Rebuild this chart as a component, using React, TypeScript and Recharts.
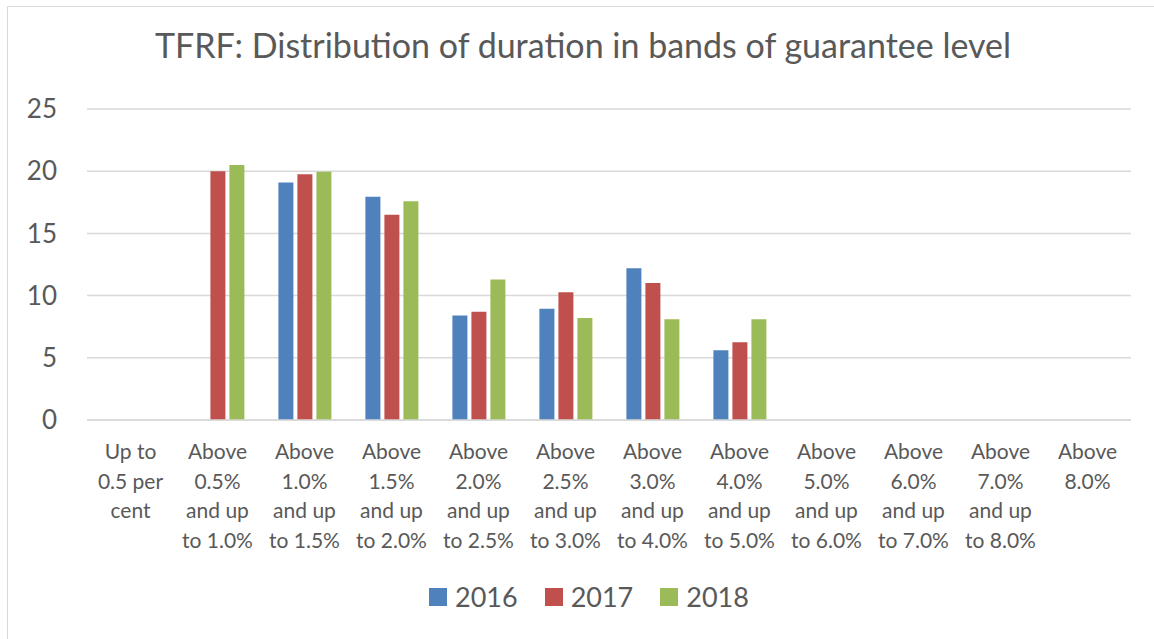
import { BarChart, Bar, XAxis, YAxis, CartesianGrid } from 'recharts';

const TITLE = 'TFRF: Distribution of duration in bands of guarantee level';

const CATEGORIES = [
  'Up to\n0.5 per\ncent',
  'Above\n0.5%\nand up\nto 1.0%',
  'Above\n1.0%\nand up\nto 1.5%',
  'Above\n1.5%\nand up\nto 2.0%',
  'Above\n2.0%\nand up\nto 2.5%',
  'Above\n2.5%\nand up\nto 3.0%',
  'Above\n3.0%\nand up\nto 4.0%',
  'Above\n4.0%\nand up\nto 5.0%',
  'Above\n5.0%\nand up\nto 6.0%',
  'Above\n6.0%\nand up\nto 7.0%',
  'Above\n7.0%\nand up\nto 8.0%',
  'Above\n8.0%',
];

const VALUES_2016 = [0, 0, 19.1, 17.95, 8.4, 8.95, 12.2, 5.6, 0, 0, 0, 0];
const VALUES_2017 = [0, 20.0, 19.75, 16.5, 8.7, 10.27, 11.02, 6.25, 0, 0, 0, 0];
const VALUES_2018 = [0, 20.5, 19.95, 17.58, 11.3, 8.2, 8.1, 8.1, 0, 0, 0, 0];

const Y_TICKS = [0, 5, 10, 15, 20, 25];

const SERIES = [
  { key: '2016', color: '#4F81BD' },
  { key: '2017', color: '#C0504D' },
  { key: '2018', color: '#9BBB59' },
];

const FONT = 'Lato, "Open Sans", sans-serif';
const TEXT = '#595959';
const GRID = '#d9d9d9';

const data = CATEGORIES.map((c, i) => ({
  cat: c,
  '2016': VALUES_2016[i],
  '2017': VALUES_2017[i],
  '2018': VALUES_2018[i],
}));

function CatTick({ x, y, payload }: any) {
  const lines = String(payload.value).split('\n');
  return (
    <text x={x} y={y} textAnchor="middle" fill={TEXT} fontSize={21} fontFamily={FONT}>
      {lines.map((l, i) => (
        <tspan key={i} x={x} dy={i === 0 ? 39 : 29.5}>
          {l}
        </tspan>
      ))}
    </text>
  );
}

export default function App() {
  return (
    <div
      style={{
        position: 'fixed',
        top: 0,
        left: 0,
        width: 1154,
        height: 639,
        overflow: 'hidden',
        background: '#fff',
        fontFamily: FONT,
      }}
    >
      {/* chart frame, only left and top edges show */}
      <div
        style={{
          position: 'absolute',
          left: 7,
          top: 6,
          width: 1170,
          height: 660,
          border: `1px solid ${GRID}`,
        }}
      />
      <div
        style={{
          position: 'absolute',
          top: 24,
          left: 0,
          width: 1166,
          textAlign: 'center',
          fontSize: 34,
          color: TEXT,
          whiteSpace: 'nowrap',
        }}
      >
        {TITLE}
      </div>
      <div style={{ position: 'absolute', left: 0, top: 0 }}>
        <BarChart
          width={1154}
          height={639}
          data={data}
          margin={{ top: 109, right: 23, bottom: 0, left: 0 }}
          barCategoryGap="20%"
          barGap={4}
        >
          <CartesianGrid vertical={false} stroke={GRID} strokeWidth={1.5} />
          <XAxis
            dataKey="cat"
            interval={0}
            tickLine={false}
            axisLine={{ stroke: GRID, strokeWidth: 1.5 }}
            tickSize={0}
            tickMargin={0}
            tick={<CatTick />}
            height={219}
          />
          <YAxis
            domain={[0, 25]}
            ticks={Y_TICKS}
            width={87}
            axisLine={false}
            tickLine={false}
            tickSize={0}
            tickMargin={30}
            tick={{ fill: TEXT, fontSize: 26, fontFamily: FONT }}
          />
          {SERIES.map((s) => (
            <Bar key={s.key} dataKey={s.key} fill={s.color} isAnimationActive={false} />
          ))}
        </BarChart>
      </div>
      {/* legend */}
      <div
        style={{
          position: 'absolute',
          top: 580,
          left: 429,
          display: 'flex',
          alignItems: 'center',
          gap: 27,
          fontSize: 27,
          color: TEXT,
        }}
      >
        {SERIES.map((s) => (
          <div key={s.key} style={{ display: 'flex', alignItems: 'center', gap: 8 }}>
            <span style={{ display: 'inline-block', width: 18, height: 18, background: s.color }} />
            <span>{s.key}</span>
          </div>
        ))}
      </div>
    </div>
  );
}
